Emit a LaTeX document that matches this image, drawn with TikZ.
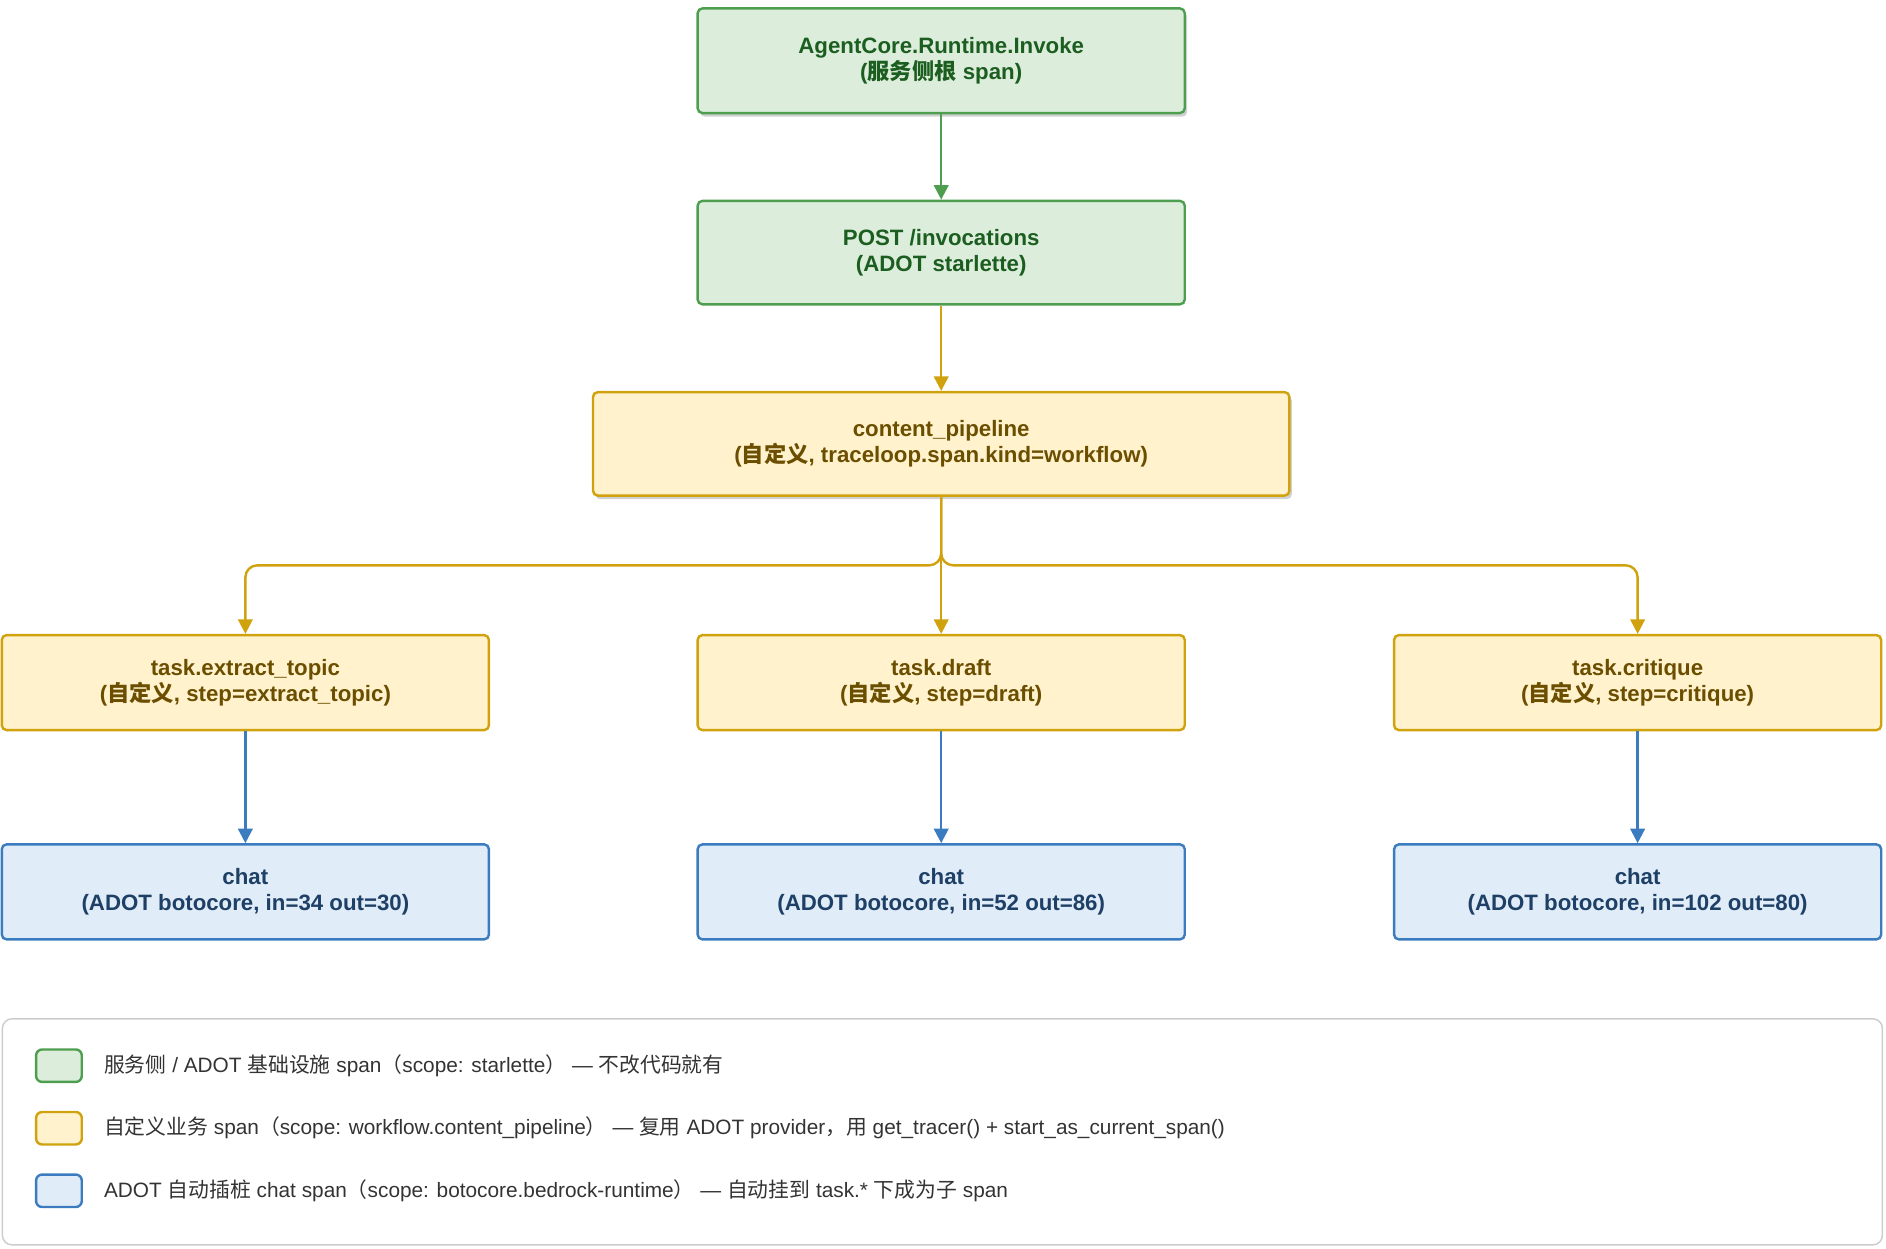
\documentclass[tikz,border=0pt]{standalone}
\usepackage{fontspec}
\setmainfont{Liberation Sans}
\newfontfamily\cjk{Noto Sans CJK SC}
\usetikzlibrary{arrows.meta,shadows}
\definecolor{gfill}{HTML}{DCEDDC}\definecolor{gdraw}{HTML}{4E9E50}\definecolor{gtext}{HTML}{1C5E20}
\definecolor{yfill}{HTML}{FFF2CC}\definecolor{ydraw}{HTML}{CFA20E}\definecolor{ytext}{HTML}{6B4E00}
\definecolor{bfill}{HTML}{E0EDF8}\definecolor{bdraw}{HTML}{3A7CBF}\definecolor{btext}{HTML}{1E3F66}
\begin{document}
\begin{tikzpicture}[x=1pt,y=-1pt,
 box/.style={rounded corners=4pt,line width=2pt,align=center,font=\bfseries\fontsize{18.5}{22}\selectfont,inner sep=0},
 gbox/.style={box,fill=gfill,draw=gdraw,text=gtext},
 ybox/.style={box,fill=yfill,draw=ydraw,text=ytext},
 bbox/.style={box,fill=bfill,draw=bdraw,text=btext},
 shd/.style={drop shadow={shadow xshift=2pt,shadow yshift=-3pt,opacity=0.3,fill=black!60}},
 arr/.style={line width=2pt,-{Triangle[length=12pt,width=12pt]},rounded corners=10pt},
 sw/.style={rounded corners=5pt,line width=2pt,minimum width=38pt,minimum height=27pt,inner sep=0},
 lt/.style={anchor=west,font=\fontsize{17.3}{20}\selectfont,text=black!80}]
\useasboundingbox (0,0) rectangle (1568,1038.4);
\node[gbox,shd,minimum width=405pt,minimum height=87pt] (root) at (782.5,50.5) {AgentCore.Runtime.Invoke\\({\cjk 服务侧根} span)};
\node[gbox,minimum width=405pt,minimum height=86pt] (post) at (782.5,210) {POST /invocations\\(ADOT starlette)};
\node[ybox,shd,minimum width=579pt,minimum height=86pt] (pipe) at (782.5,369) {content\_pipeline\\({\cjk 自定义}, traceloop.span.kind=workflow)};
\node[ybox,minimum width=405pt,minimum height=79pt] (t1) at (204,567.5) {task.extract\_topic\\({\cjk 自定义}, step=extract\_topic)};
\node[ybox,minimum width=405pt,minimum height=79pt] (t2) at (782.5,567.5) {task.draft\\({\cjk 自定义}, step=draft)};
\node[ybox,minimum width=405pt,minimum height=79pt] (t3) at (1361.5,567.5) {task.critique\\({\cjk 自定义}, step=critique)};
\node[bbox,minimum width=405pt,minimum height=79pt] (c1) at (204,741.5) {chat\\(ADOT botocore, in=34 out=30)};
\node[bbox,minimum width=405pt,minimum height=79pt] (c2) at (782.5,741.5) {chat\\(ADOT botocore, in=52 out=86)};
\node[bbox,minimum width=405pt,minimum height=79pt] (c3) at (1361.5,741.5) {chat\\(ADOT botocore, in=102 out=80)};
\draw[arr,gdraw] (root) -- (post);
\draw[arr,ydraw] (post) -- (pipe);
\draw[arr,ydraw] (pipe.south) |- (470,470) -| (t1.north);
\draw[arr,ydraw] (pipe.south) |- (1100,470) -| (t3.north);
\draw[arr,ydraw] (pipe) -- (t2);
\draw[arr,bdraw] (t1) -- (c1);
\draw[arr,bdraw] (t2) -- (c2);
\draw[arr,bdraw] (t3) -- (c3);
\node[draw=black!20,line width=1.2pt,rounded corners=8pt,minimum width=1563pt,minimum height=188pt,inner sep=0] (leg) at (783.5,941) {};
\node[sw,fill=gfill,draw=gdraw] (s1) at (49,886) {};
\node[sw,fill=yfill,draw=ydraw] (s2) at (49,938) {};
\node[sw,fill=bfill,draw=bdraw] (s3) at (49,990) {};
\node[lt] (l1) at (83,886) {{\cjk 服务侧} / ADOT {\cjk 基础设施} span{\cjk （}scope: starlette{\cjk ）} — {\cjk 不改代码就有}};
\node[lt] (l2) at (83,938) {{\cjk 自定义业务} span{\cjk （}scope: workflow.content\_pipeline{\cjk ）} — {\cjk 复用} ADOT provider{\cjk ，用} get\_tracer() + start\_as\_current\_span()};
\node[lt] (l3) at (83,990) {ADOT {\cjk 自动插桩} chat span{\cjk （}scope: botocore.bedrock-runtime{\cjk ）} — {\cjk 自动挂到} task.* {\cjk 下成为子} span};
\end{tikzpicture}
\end{document}
